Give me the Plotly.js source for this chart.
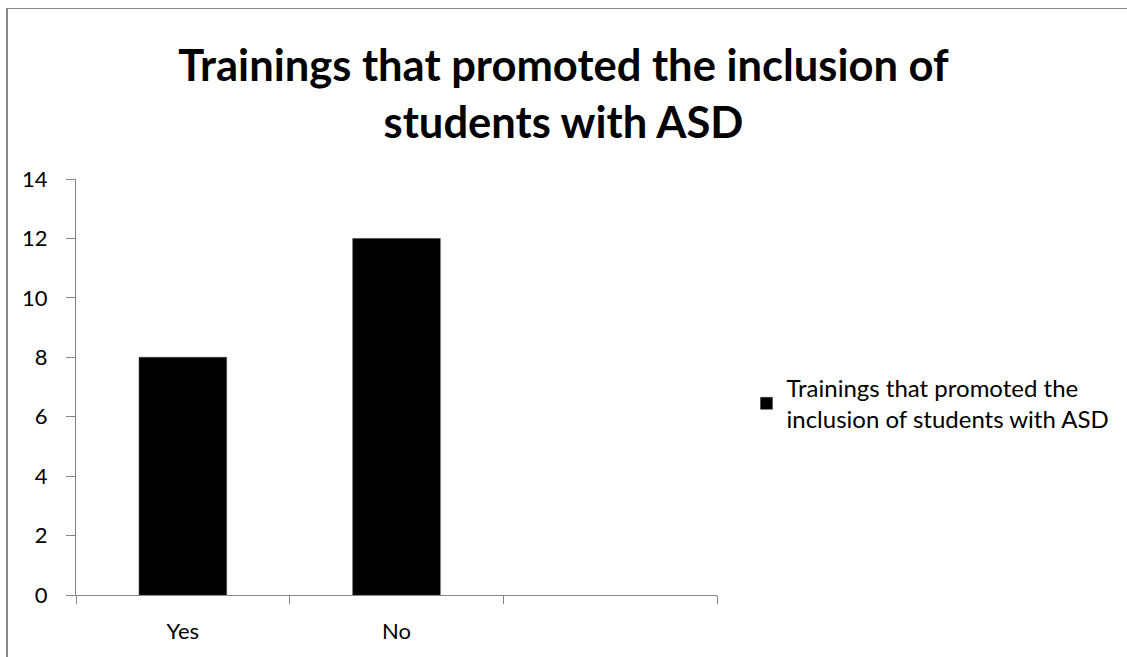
<!DOCTYPE html>
<html>
<head>
<meta charset="utf-8">
<script src="https://cdn.plot.ly/plotly-3.0.1.min.js"></script>
<style>
  html, body { margin: 0; padding: 0; background: #fff; overflow: hidden; }
  #chart { width: 1127px; height: 657px; }
  #frame { position: absolute; left: 6px; top: 8px; width: 2000px; height: 2000px;
           border-left: 2px solid #868686; border-top: 1px solid #868686; pointer-events: none; }
</style>
</head>
<body>
<div id="chart"></div>
<div id="frame"></div>
<script>
const categories = ["Yes", "No", " "];
const values = [8, 12, null];
const seriesName = "Trainings that promoted the<br>inclusion of students with ASD";
const yTicks = [0, 2, 4, 6, 8, 10, 12, 14];

const FONT = "Lato, 'Open Sans', sans-serif";
const AXIS = "#868686";

const trace = {
  type: "bar",
  x: categories,
  y: values,
  name: seriesName,
  width: 0.41,
  marker: { color: "#000000", line: { color: "#3a3a3a", width: 0.5 } },
  showlegend: true,
  hoverinfo: "x+y"
};

const layout = {
  width: 1127,
  height: 657,
  margin: { l: 76, r: 408, t: 179, b: 62 },
  paper_bgcolor: "#ffffff",
  plot_bgcolor: "#ffffff",
  font: { family: FONT, color: "#000000", size: 22 },
  title: {
    text: "<b>Trainings that promoted the inclusion of<br>students with ASD</b>",
    font: { family: FONT, size: 43.5, color: "#000000" },
    xref: "container", x: 0.5, xanchor: "center",
    yref: "container", y: 1 - 81 / 657, yanchor: "top"
  },
  xaxis: {
    type: "category",
    categoryorder: "array",
    categoryarray: categories,
    range: [-0.5, 2.5],
    tickson: "boundaries",
    ticks: "outside",
    ticklen: 8,
    tickwidth: 1,
    tickcolor: AXIS,
    showline: true,
    linecolor: AXIS,
    linewidth: 1,
    showgrid: false,
    zeroline: false,
    tickfont: { family: FONT, size: 22, color: "#000000" },
    ticklabelstandoff: 17,
    fixedrange: true
  },
  yaxis: {
    range: [0, 14],
    tickvals: yTicks,
    ticktext: yTicks.map(String),
    ticks: "outside",
    ticklen: 9,
    tickwidth: 1,
    tickcolor: AXIS,
    showline: true,
    linecolor: AXIS,
    linewidth: 1,
    showgrid: false,
    zeroline: false,
    tickfont: { family: FONT, size: 22, color: "#000000" },
    ticklabelstandoff: 14,
    fixedrange: true
  },
  showlegend: true,
  legend: {
    x: 1.046, xanchor: "left",
    y: 0.46, yanchor: "middle",
    font: { family: FONT, size: 24, color: "#000000" },
    bgcolor: "rgba(0,0,0,0)",
    itemwidth: 30,
    tracegroupgap: 0
  },
  bargap: 0.59
};

Plotly.newPlot("chart", [trace], layout, { displayModeBar: false, staticPlot: true });
</script>
</body>
</html>
